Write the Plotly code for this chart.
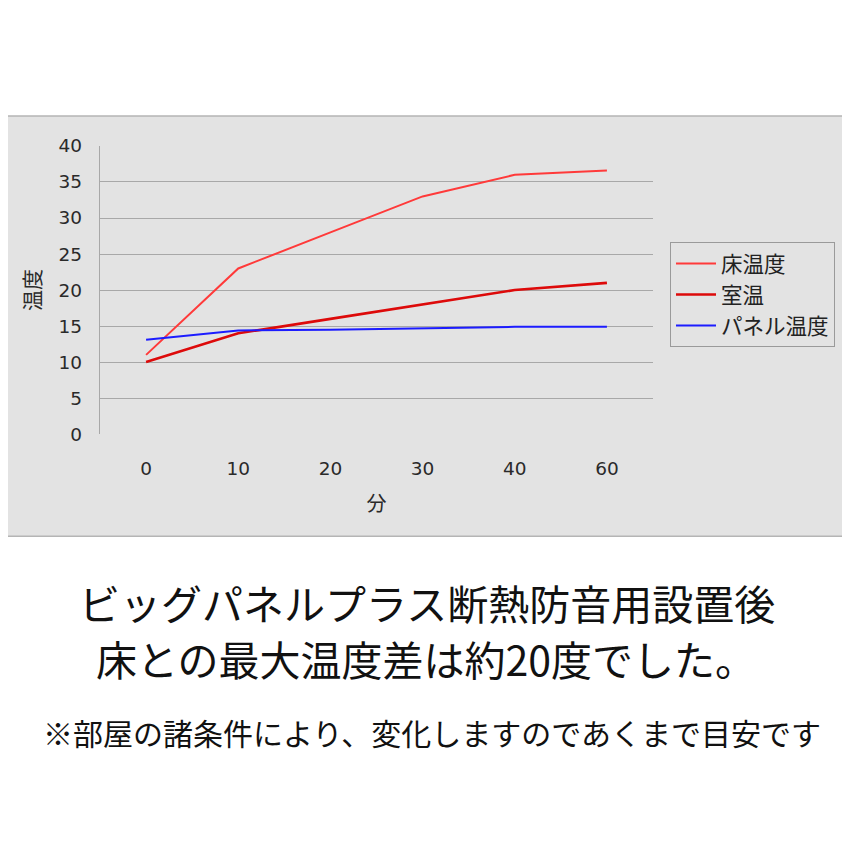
import plotly.graph_objects as go

minutes = ["0", "10", "20", "30", "40", "60"]
floor_temp = [11, 23, 28, 33, 36, 36.6]
room_temp = [10, 14, 16, 18, 20, 21]
panel_temp = [13.1, 14.4, 14.5, 14.7, 14.9, 14.9]
y_ticks = [0, 5, 10, 15, 20, 25, 30, 35, 40]

W, H = 834, 826
# measured placement of the figure inside the photographed window
OX, OY, SY = 8, 18.1, 0.974
def px(x): return (x - OX) / W
def py(y): return 1 - ((y - OY) / SY) / H

fig = go.Figure()
fig.add_trace(go.Scatter(x=minutes, y=floor_temp, mode="lines", name="床温度",
                         line=dict(color="#ff3a3a", width=2)))
fig.add_trace(go.Scatter(x=minutes, y=room_temp, mode="lines", name="室温",
                         line=dict(color="#dd0a0a", width=2.6)))
fig.add_trace(go.Scatter(x=minutes, y=panel_temp, mode="lines", name="パネル温度",
                         line=dict(color="#1c1cff", width=2)))

tickfont = dict(family="DejaVu Sans", size=18.5, color="#2a2a2a")
fig.update_layout(
    width=W, height=H, margin=dict(l=0, r=0, t=0, b=0),
    paper_bgcolor="white", plot_bgcolor="rgba(0,0,0,0)",
    font=dict(family="Noto Sans CJK JP", color="#222"),
    shapes=[dict(type="rect", xref="paper", yref="paper", layer="below",
                 x0=px(1), x1=px(848), y0=py(535), y1=py(115),
                 fillcolor="#e3e3e3", line=dict(color="#b5b5b5", width=1.5))],
    xaxis=dict(domain=[px(100), px(653)], type="category", range=[-0.5, 5.5],
               showgrid=False, zeroline=False, showline=False, ticks="",
               ticklabelstandoff=21, tickfont=tickfont,
               title=dict(text="分", font=dict(size=20, color="#2a2a2a"), standoff=19)),
    yaxis=dict(domain=[py(433), py(145)], range=[0, 40], tickvals=y_ticks,
               showgrid=True, gridcolor="#a8a8a8", gridwidth=1.3, zeroline=False,
               showline=True, linecolor="#a8a8a8", linewidth=1.3, ticks="",
               ticklabelstandoff=13, tickfont=tickfont,
               title=dict(text="温度", font=dict(size=21, color="#2a2a2a"), standoff=12)),
    legend=dict(x=px(670), y=py(241), xanchor="left", yanchor="top",
                bgcolor="#e3e3e3", bordercolor="#9a9a9a", borderwidth=1,
                font=dict(size=21.5, color="#222"), tracegroupgap=0,
                itemwidth=40),
    showlegend=True,
)

fig.add_annotation(text="ビッグパネルプラス断熱防音用設置後", xref="paper", yref="paper",
                   x=px(427), y=py(601), xanchor="center", yanchor="middle", showarrow=False,
                   font=dict(family="Noto Sans CJK JP", size=41, color="#111"))
fig.add_annotation(text="床との最大温度差は約20度でした。", xref="paper", yref="paper",
                   x=px(426), y=py(657), xanchor="center", yanchor="middle", showarrow=False,
                   font=dict(family="Noto Sans CJK JP", size=41, color="#111"))
fig.add_annotation(text="※部屋の諸条件により、変化しますのであくまで目安です", xref="paper", yref="paper",
                   x=px(432), y=py(731), xanchor="center", yanchor="middle", showarrow=False,
                   font=dict(family="Noto Sans CJK JP", size=30, color="#111"))

fig.write_html("out.html")
